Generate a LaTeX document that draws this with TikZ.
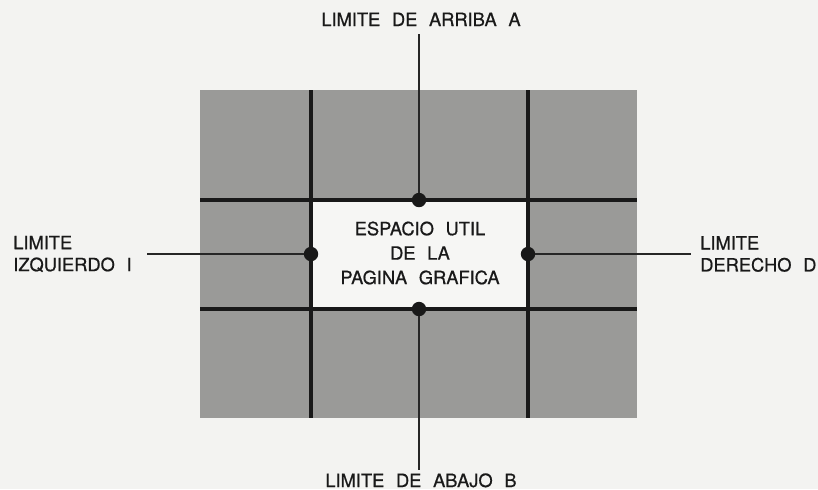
\documentclass[tikz,border=0pt]{standalone}
\usepackage{fontspec}
\setmainfont[WordSpace=2.3,FakeBold=0.7]{TeX Gyre Heros}
\definecolor{paper}{RGB}{243,243,241}
\definecolor{margen}{RGB}{154,154,152}
\definecolor{util}{RGB}{246,246,244}
\tikzset{
  rejilla/.style={line width=2.8pt,black!90},
  guia/.style={line width=1.3pt,black!85},
  punto/.style={circle,fill=black!90,inner sep=0pt,minimum size=0.36cm},
  rotulo/.style={font=\fontsize{13}{15.6}\selectfont,inner sep=0pt,text=black!90}
}
\begin{document}
\begin{tikzpicture}[x=0.025cm,y=-0.025cm]
    \fill[paper] (0,0) rectangle (818,489);
    \useasboundingbox (0,0) rectangle (818,489);
    % page with margins
    \begin{scope}
      \fill[margen] (200,90) rectangle (637,418);
      \fill[util] (311,200) rectangle (528,309);
      \foreach \xx in {311,528}
        {\draw[rejilla] (\xx,90) -- (\xx,418);}
      \foreach \yy in {200,309}
        {\draw[rejilla] (200,\yy) -- (637,\yy);}
      \node[rotulo,align=center,font=\fontsize{13}{17.4}\selectfont] (util) at (420,253)
        {ESPACIO UTIL\\DE LA\\PAGINA GRAFICA};
    \end{scope}
    % limits
    \node[punto] (ptA) at (419,200) {};
    \node[punto] (ptB) at (419,309) {};
    \node[punto] (ptI) at (311,254) {};
    \node[punto] (ptD) at (528,254) {};
    \node[rotulo,anchor=base] (limA) at (421,26) {LIMITE DE ARRIBA A};
    \node[rotulo,anchor=base] (limB) at (421,487) {LIMITE DE ABAJO B};
    \node[rotulo,anchor=west,align=left] (limI) at (13,254) {LIMITE\\IZQUIERDO I};
    \node[rotulo,anchor=west,align=left] (limD) at (700,254) {LIMITE\\DERECHO D};
    \coordinate (finA) at (419,34);
    \coordinate (finB) at (419,470);
    \coordinate (finI) at (147,254);
    \coordinate (finD) at (691,254);
    \draw[guia] (finA) -- (ptA);
    \draw[guia] (ptB) -- (finB);
    \draw[guia] (finI) -- (ptI);
    \draw[guia] (ptD) -- (finD);
  \end{tikzpicture}
\end{document}
